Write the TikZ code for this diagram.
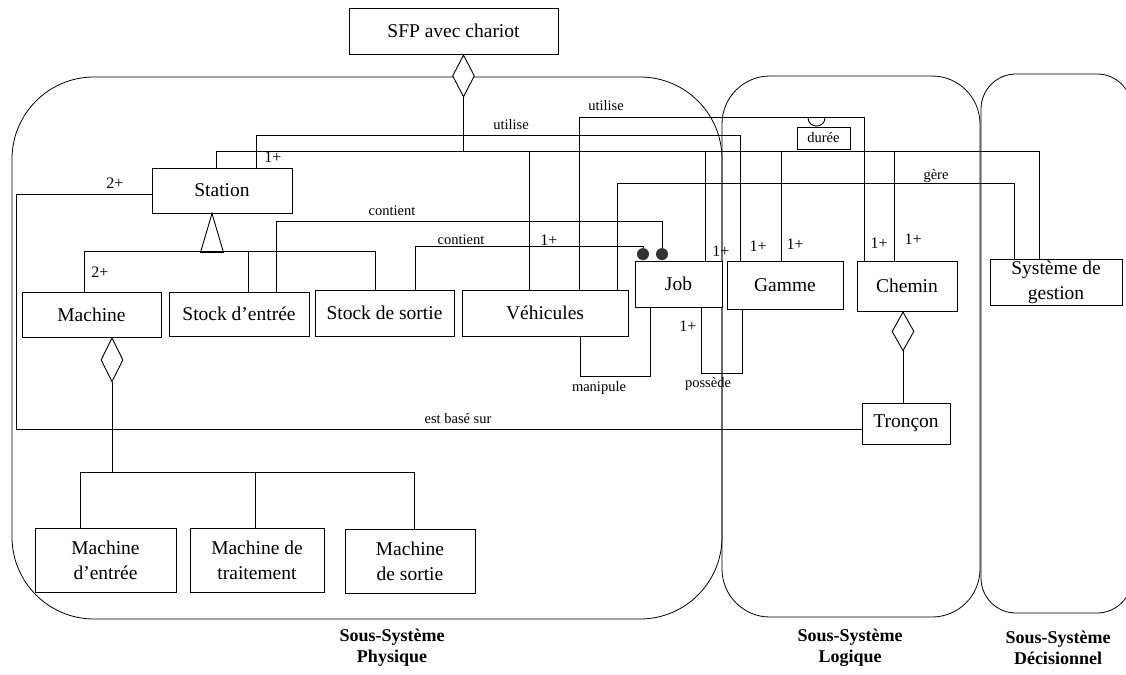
\documentclass[tikz,border=0pt]{standalone}
\usepackage{fontspec}
\setmainfont{Liberation Serif}
\usetikzlibrary{shapes.geometric,calc}

\begin{document}
\begin{tikzpicture}[
    x=1pt, y=-1pt,
    line width=0.9pt,
    box/.style={rectangle, draw, fill=white, inner sep=1pt, align=center, font=\fontsize{19.5}{25}\selectfont},
    lbl/.style={inner sep=0pt, font=\fontsize{14.5}{16}\selectfont},
    mult/.style={inner sep=0pt, font=\fontsize{16}{18}\selectfont},
    agg/.style={diamond, draw, fill=white, inner sep=0pt, minimum width=22pt, minimum height=42pt},
    dot/.style={circle, fill=black!80, inner sep=0pt, minimum size=12pt},
    subsys/.style={draw, line width=0.8pt},
    title/.style={align=center, font=\bfseries\fontsize{18}{21}\selectfont}
]
    \path[use as bounding box, clip] (0,0) rectangle (1126,674);

    % Sub-systems
    \draw[subsys, rounded corners=82pt] (12,77) rectangle (722,619);
    \draw[subsys, rounded corners=48pt] (722,76) rectangle (980,617);
    \draw[subsys, rounded corners=35pt] (981,74) rectangle (1132,613);
    \node[title] (tphys) at (392,648) {Sous-Système\\Physique};
    \node[title] (tlog) at (850,648) {Sous-Système\\Logique};
    \node[title] (tdec) at (1058,648) {Sous-Système\\Décisionnel};

    % Main components
    \node[box, minimum width=209pt, minimum height=46pt] (sfp) at (453.5,31) {SFP avec chariot};
    \node[agg, anchor=north] (sfpagg) at ([xshift=10pt]sfp.south) {};
    \node[box, minimum width=140pt, minimum height=45pt] (station) at (222,190.5) {Station};
    \node[box, minimum width=139pt, minimum height=45pt] (machine) at (91.5,314.5) {Machine};
    \node[box, minimum width=140pt, minimum height=44pt] (stockin) at (239,314) {Stock d’entrée};
    \node[box, minimum width=139pt, minimum height=46pt] (stockout) at (384.5,313) {Stock de sortie};
    \node[box, minimum width=166pt, minimum height=46pt] (vehic) at (545,313) {Véhicules};
    \node[box, minimum width=87pt, minimum height=46pt] (job) at (678.5,284) {Job};
    \node[box, minimum width=116pt, minimum height=48pt] (gamme) at (785,285) {Gamme};
    \node[box, minimum width=100pt, minimum height=50pt] (chemin) at (907,286) {Chemin};
    \node[box, minimum width=132pt, minimum height=46pt] (sdg) at (1056,282) {Système de\\gestion};
    \node[box, minimum width=88pt, minimum height=41pt] (troncon) at (906,423.5) {Tronçon};
    \node[box, minimum width=53pt, minimum height=22pt, font=\fontsize{14.5}{16}\selectfont] (duree) at (823.5,138) {durée};

    % Machines
    \node[box, minimum width=141pt, minimum height=64pt] (mentree) at (105.5,560) {Machine\\d’entrée};
    \node[box, minimum width=134pt, minimum height=64pt] (mtrait) at (257,560) {Machine de\\traitement};
    \node[box, minimum width=130pt, minimum height=64pt] (msortie) at (410,561) {Machine\\de sortie};

    % Aggregations and dots
    \node[agg, anchor=north, minimum height=44pt] (machagg) at ([xshift=20.5pt]machine.south) {};
    \node[agg, anchor=north, minimum height=39pt] (chemagg) at ([xshift=-4pt]chemin.south) {};
    \node[dot, anchor=south] (dota) at ([xshift=-35.5pt]job.north) {};
    \node[dot, anchor=south] (dotb) at ([xshift=-16.5pt]job.north) {};

    % Composition of the system
    \draw (sfpagg.south) -- ++(0,55);
    \draw ([xshift=-6pt]station.north) -- ++(0,-16) -| ([xshift=-17pt]sdg.north);
    \draw ([xshift=-16pt]vehic.north) -- ++(0,-138);
    \draw ([xshift=26.5pt]job.north) -- ++(0,-109);
    \draw ([xshift=-4pt]gamme.north) -- ++(0,-109);
    \draw ([xshift=-13pt]chemin.north) -- ++(0,-109);

    % Associations
    \draw ([xshift=34pt]station.north) -- ++(0,-32) -| ([xshift=-45pt]gamme.north);
    \draw ([xshift=34pt]vehic.north) -- ++(0,-172) -| ([xshift=-43pt]chemin.north);
    \draw ($(duree.north)+(-15.5,-9)$) .. controls +(0,11.3) and +(0,11.3) .. ($(duree.north)+(1.5,-9)$);
    \draw ([xshift=72pt]vehic.north) -- ++(0,-106) -| ([xshift=-42pt]sdg.north);
    \draw ([xshift=37pt]stockin.north) -- ++(0,-70) -| (dotb.north);
    \draw ([xshift=30.5pt]stockout.north) -- ++(0,-43) -| (dota.north);
    \draw ([yshift=-3.5pt]station.west) -- ++(-135,0) |- ([yshift=-5.5pt]troncon.west);
    \draw ([xshift=35pt]vehic.south) -- ++(0,40) -| ([xshift=-28.5pt]job.south);
    \draw ([xshift=22.5pt]job.south) -- ++(0,66) -| ([xshift=-43pt]gamme.south);

    % Generalization of Station
    \draw[fill=white] ([xshift=-10pt]station.south) -- ++(-11.5,39) -- ++(23,0) -- cycle;
    \draw ([xshift=-7.5pt]machine.north) -- ++(0,-40) -| ([xshift=-9.5pt]stockout.north);
    \draw ([xshift=9pt]stockin.north) -- ++(0,-40);

    % Composition of machines and paths
    \draw (machagg.south) -- ++(0,91);
    \draw ([xshift=-25.5pt]mentree.north) -- ++(0,-55) -| ([xshift=4pt]msortie.north);
    \draw ([xshift=-2pt]mtrait.north) -- ++(0,-55);
    \draw (chemagg.south) -- (chemagg.south |- troncon.north);

    % Labels
    \node[lbl] (lutil) at (511,125) {utilise};
    \node[lbl] (lutilb) at (606,106) {utilise};
    \node[lbl] (lgere) at (936,176) {gère};
    \node[lbl] (lcont) at (392,211) {contient};
    \node[lbl] (lcontb) at (461,240) {contient};
    \node[lbl] (lbase) at (458,419) {est basé sur};
    \node[lbl] (lmanip) at (599,388) {manipule};
    \node[lbl] (lposs) at (708,384) {possède};

    % Multiplicities
    \node[mult] (m1) at (273,157) {1+};
    \node[mult] (m2) at (549,240) {1+};
    \node[mult] (m3) at (721,251) {1+};
    \node[mult] (m4) at (758,246) {1+};
    \node[mult] (m5) at (795,244) {1+};
    \node[mult] (m6) at (879,243) {1+};
    \node[mult] (m7) at (913,239) {1+};
    \node[mult] (m8) at (688,326) {1+};
    \node[mult] (m9) at (115,183) {2+};
    \node[mult] (m10) at (100,272) {2+};
\end{tikzpicture}
\end{document}
